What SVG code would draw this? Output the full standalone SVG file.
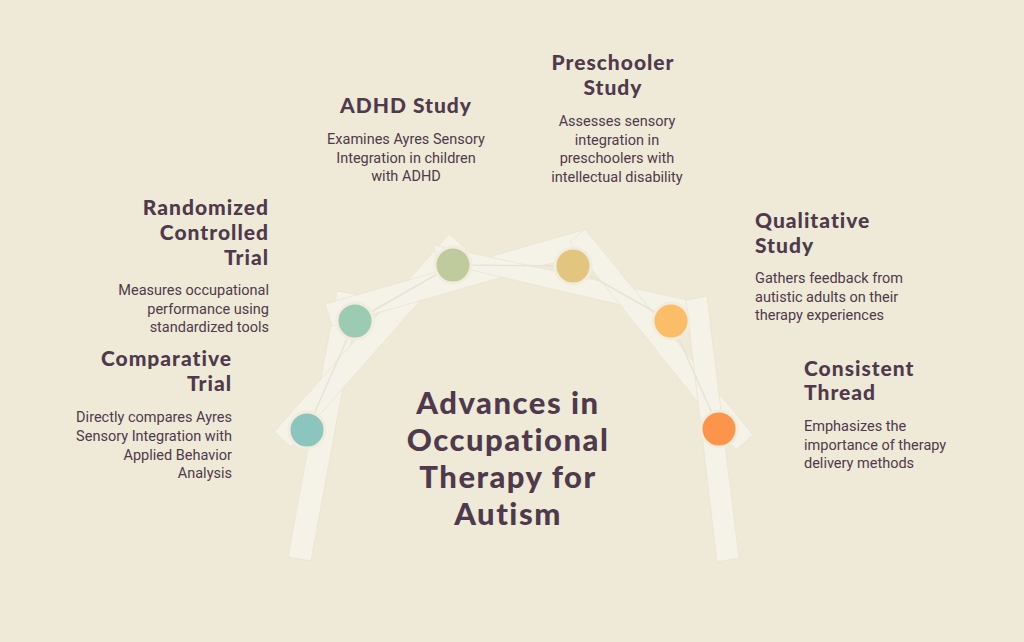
<svg xmlns="http://www.w3.org/2000/svg" width="1024" height="642" viewBox="0 0 1024 642">
<style>
.h{font-family:Lato,"Open Sans",sans-serif;font-weight:900;font-size:21px;fill:#4e3a4c;letter-spacing:1px}
.d{font-family:Roboto,"Liberation Sans",sans-serif;font-size:14.5px;fill:#4e3a4c}
.beam{fill:#f6f4ea;opacity:0.88;stroke:#ebe6d4;stroke-width:1}
.ln{stroke:#e8e4d3;stroke-width:1.5}
.n{stroke:#f1ecdd;stroke-width:3}
.t{font-family:Lato,"Open Sans",sans-serif;font-weight:900;font-size:31px;fill:#4e3a4c;text-anchor:middle;letter-spacing:1.5px}
</style>
<rect width="1024" height="642" fill="#efe9d7"/>
<g id="beams">
<polygon class="beam" points="288,557 311,561 360,295 337,291"/>
<polygon class="beam" points="274,432 291,447 466,249 449,234"/>
<polygon class="beam" points="325,304 332,326 590,252 583,230"/>
<polygon class="beam" points="434,245 437,262 693,322 697,302"/>
<polygon class="beam" points="570,242 585,229 753,435 736,450"/>
<polygon class="beam" points="686,300 707,296 739,558 717,562"/>
</g>
<g id="connectors">
<line class="ln" x1="307" y1="430" x2="355" y2="321"/>
<line class="ln" x1="355" y1="321" x2="453" y2="265"/>
<line class="ln" x1="453" y1="265" x2="573" y2="266"/>
<line class="ln" x1="573" y1="266" x2="671" y2="321"/>
<line class="ln" x1="671" y1="321" x2="719" y2="429"/>
</g>
<g id="n1"><circle class="n" cx="307" cy="430" r="18" fill="#8cc5bd"/>
<text class="h" text-anchor="end"><tspan x="232" y="366">Comparative</tspan><tspan x="232" y="391">Trial</tspan></text>
<text class="d" text-anchor="end"><tspan x="232" y="422">Directly compares Ayres</tspan><tspan x="232" y="441">Sensory Integration with</tspan><tspan x="232" y="460">Applied Behavior</tspan><tspan x="232" y="478">Analysis</tspan></text></g>
<g id="n2"><circle class="n" cx="355" cy="321" r="18" fill="#9ccbb3"/>
<text class="h" text-anchor="end"><tspan x="269" y="215">Randomized</tspan><tspan x="269" y="240">Controlled</tspan><tspan x="269" y="265">Trial</tspan></text>
<text class="d" text-anchor="end"><tspan x="269" y="295">Measures occupational</tspan><tspan x="269" y="314">performance using</tspan><tspan x="269" y="332">standardized tools</tspan></text></g>
<g id="n3"><circle class="n" cx="453" cy="265" r="18" fill="#bfcb9c"/>
<text class="h" text-anchor="middle"><tspan x="406" y="113">ADHD Study</tspan></text>
<text class="d" text-anchor="middle"><tspan x="406" y="144">Examines Ayres Sensory</tspan><tspan x="406" y="163">Integration in children</tspan><tspan x="406" y="181">with ADHD</tspan></text></g>
<g id="n4"><circle class="n" cx="573" cy="266" r="18" fill="#e2c57f"/>
<text class="h" text-anchor="middle"><tspan x="613" y="70">Preschooler</tspan><tspan x="613" y="95">Study</tspan></text>
<text class="d" text-anchor="middle"><tspan x="617" y="126">Assesses sensory</tspan><tspan x="617" y="145">integration in</tspan><tspan x="617" y="163">preschoolers with</tspan><tspan x="617" y="182">intellectual disability</tspan></text></g>
<g id="n5"><circle class="n" cx="671" cy="321" r="18" fill="#fbbd67"/>
<text class="h"><tspan x="755" y="228">Qualitative</tspan><tspan x="755" y="253">Study</tspan></text>
<text class="d"><tspan x="755" y="283">Gathers feedback from</tspan><tspan x="755" y="302">autistic adults on their</tspan><tspan x="755" y="320">therapy experiences</tspan></text></g>
<g id="n6"><circle class="n" cx="719" cy="429" r="18" fill="#fc944c"/>
<text class="h"><tspan x="804" y="376">Consistent</tspan><tspan x="804" y="400">Thread</tspan></text>
<text class="d"><tspan x="804" y="431">Emphasizes the</tspan><tspan x="804" y="450">importance of therapy</tspan><tspan x="804" y="468">delivery methods</tspan></text></g>
<g id="title"><text class="t"><tspan x="508" y="414">Advances in</tspan><tspan x="508" y="451">Occupational</tspan><tspan x="508" y="488">Therapy for</tspan><tspan x="508" y="525">Autism</tspan></text></g>
</svg>
